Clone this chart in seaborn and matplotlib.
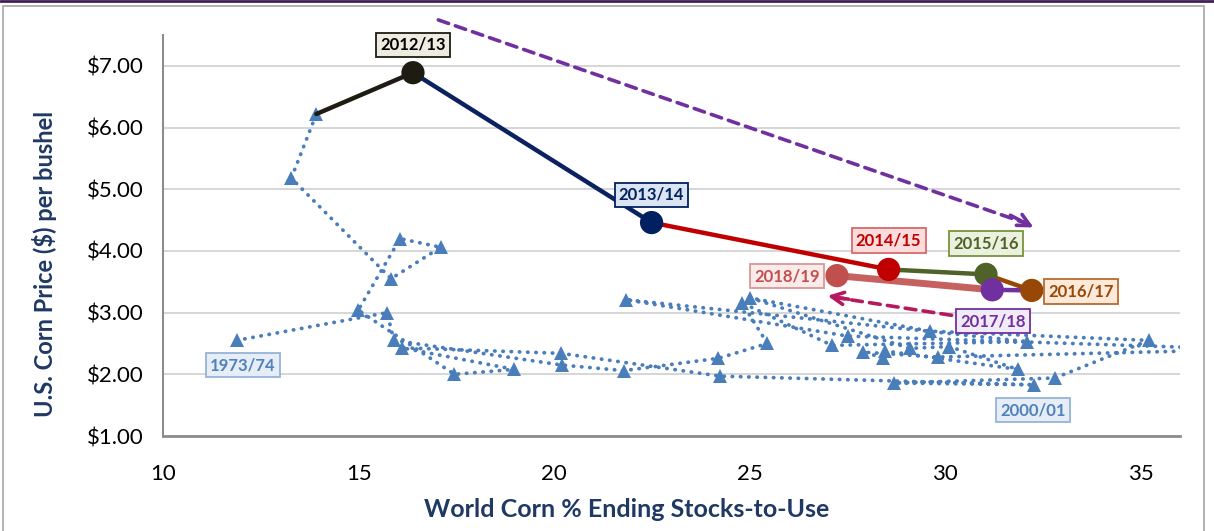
import matplotlib
matplotlib.use("Agg")
import matplotlib.pyplot as plt
import matplotlib.patches as patches
import matplotlib.lines as mlines
from matplotlib.ticker import StrMethodFormatter
import pandas as pd
import seaborn as sns

# dotted history line, 1973/74 - 2011/12 (three mid-80s years sit off the right edge)
hist_years = ["1973/74", "1974/75", "1975/76", "1976/77", "1977/78", "1978/79", "1979/80",
              "1980/81", "1981/82", "1982/83", "1983/84", "1984/85", "1985/86", "1986/87",
              "1987/88", "1988/89", "1989/90", "1990/91", "1991/92", "1992/93", "1993/94",
              "1994/95", "1995/96", "1996/97", "1997/98", "1998/99", "1999/00", "2000/01",
              "2001/02", "2002/03", "2003/04", "2004/05", "2005/06", "2006/07", "2007/08",
              "2008/09", "2009/10", "2010/11", "2011/12"]
hist_stocks = [11.88, 15.73, 15.90, 20.20, 21.78, 24.20, 25.45,
               24.80, 27.10, 32.10, 21.83, 27.50, 38.0, 41.0,
               39.0, 29.80, 27.90, 28.40, 28.45, 31.85, 30.10,
               29.10, 25.00, 29.60, 35.20, 32.80, 28.70, 32.26,
               24.25, 20.18, 16.10, 18.98, 17.45, 14.99, 16.06,
               17.10, 15.83, 13.28, 13.92]
hist_price = [2.55, 3.00, 2.55, 2.15, 2.06, 2.26, 2.50,
              3.16, 2.47, 2.53, 3.21, 2.62, 2.40, 2.30,
              2.42, 2.28, 2.36, 2.27, 2.38, 2.08, 2.45,
              2.42, 3.24, 2.70, 2.55, 1.94, 1.86, 1.83,
              1.97, 2.34, 2.43, 2.08, 2.00, 3.04, 4.20,
              4.06, 3.55, 5.18, 6.22]

# highlighted recent years
recent_years = ["2011/12", "2012/13", "2013/14", "2014/15", "2015/16", "2016/17", "2017/18", "2018/19"]
recent_stocks = [13.92, 16.39, 22.49, 28.55, 31.04, 32.21, 31.20, 27.23]
recent_price = [6.22, 6.89, 4.46, 3.70, 3.62, 3.36, 3.37, 3.60]

seg_colors = ["#1e1c12", "#0b2160", "#c00000", "#4f6228", "#984806", "#7030a0", "#c0504d"]
dot_colors = [None, "#1e1c12", "#002060", "#c00000", "#4f6228", "#984806", "#7030a0", "#c0504d"]

# label boxes: (text colour, face, edge, x, y)
label_style = {
    "2012/13": ("#000000", "#eeece1", "#1e1c12", 16.39, 7.34),
    "2013/14": ("#002060", "#dbe5f1", "#002060", 22.49, 4.91),
    "2014/15": ("#c00000", "#fadcdc", "#d9696a", 28.55, 4.17),
    "2015/16": ("#4f6228", "#ebf1de", "#77933c", 31.04, 4.12),
    "2016/17": ("#984806", "#fde9d9", "#b86a2c", 33.46, 3.34),
    "2017/18": ("#7030a0", "#f1ebf7", "#7030a0", 31.22, 2.86),
    "2018/19": ("#c0504d", "#fbeaea", "#d99694", 25.95, 3.59),
    "1973/74": ("#4f81bd", "#e6edf6", "#95b3d7", 12.04, 2.15),
    "2000/01": ("#4f81bd", "#e6edf6", "#95b3d7", 32.25, 1.42),
}

sns.set_theme(style="white")
plt.rcParams["font.family"] = ["Lato", "DejaVu Sans"]

hist = pd.DataFrame({"year": hist_years, "stocks": hist_stocks, "price": hist_price})
recent = pd.DataFrame({"year": recent_years, "stocks": recent_stocks, "price": recent_price})

fig = plt.figure(figsize=(12.14, 5.31), dpi=100)
ax = fig.add_axes([0.1343, 0.1789, 0.8377, 0.7551])

ax.grid(axis="y", color="#d0d0d0", lw=1.2)
ax.set_axisbelow(True)

sns.lineplot(data=hist, x="stocks", y="price", sort=False, estimator=None, ax=ax,
             color="#4a7ebb", lw=2.7, linestyle=(0, (0.1, 2.1)), dash_capstyle="round",
             marker="^", markersize=10, markeredgewidth=0, zorder=3)

for i in range(len(recent) - 1):
    lw = 5 if i == len(recent) - 2 else 3.2
    alpha = 0.9 if i == len(recent) - 2 else 1
    sns.lineplot(data=recent.iloc[i:i + 2], x="stocks", y="price", sort=False,
                 estimator=None, ax=ax, color=seg_colors[i], lw=lw, alpha=alpha, zorder=4)

for i in range(1, len(recent)):
    sns.scatterplot(x=[recent_stocks[i]], y=[recent_price[i]], ax=ax, color=dot_colors[i],
                    s=280, edgecolor="none", zorder=5)

for name, (tc, fc, ec, lx, ly) in label_style.items():
    ax.text(lx, ly, name, ha="center", va="center", fontsize=12, fontweight="bold", color=tc,
            zorder=6, bbox=dict(boxstyle="square,pad=0.25", fc=fc, ec=ec, lw=1.3))

# trend arrows
ax.annotate("", xy=(32.1, 4.44), xytext=(16.97, 7.76), annotation_clip=False,
            arrowprops=dict(arrowstyle="-", color="#7030a0", lw=2.6, linestyle=(0, (3, 2))))
ax.annotate("", xy=(32.32, 4.36), xytext=(31.6, 4.6), annotation_clip=False,
            arrowprops=dict(arrowstyle="->", color="#7030a0", lw=2.6, mutation_scale=22))
ax.annotate("", xy=(27.15, 3.25), xytext=(30.23, 2.95),
            arrowprops=dict(arrowstyle="-", color="#b5195f", lw=2.6, linestyle=(0, (3, 2))))
ax.annotate("", xy=(26.92, 3.28), xytext=(27.6, 3.21),
            arrowprops=dict(arrowstyle="->", color="#b5195f", lw=2.6, mutation_scale=22))

ax.set_xlim(10, 36)
ax.set_ylim(1, 7.5)
ax.set_xticks([10, 15, 20, 25, 30, 35])
ax.set_yticks([1, 2, 3, 4, 5, 6, 7])
ax.yaxis.set_major_formatter(StrMethodFormatter("${x:.2f}"))

for side in ["top", "right"]:
    ax.spines[side].set_visible(False)
for side in ["left", "bottom"]:
    ax.spines[side].set_color("#8c8c8c")
ax.spines["left"].set_linewidth(1.5)
ax.spines["bottom"].set_linewidth(2)
ax.tick_params(axis="both", labelsize=16, colors="#8c8c8c", labelcolor="black",
               direction="out", length=8, width=1.5, pad=6)
ax.tick_params(axis="x", pad=12)

ax.set_xlabel("World Corn % Ending Stocks-to-Use", fontsize=18, fontweight="bold",
              color="#1f3864")
ax.set_ylabel("U.S. Corn Price ($) per bushel", fontsize=17, fontweight="bold",
              color="#1f3864")
ax.xaxis.set_label_coords(0.456, -0.155)
ax.yaxis.set_label_coords(-0.104, 0.43)

# chart frame and the thin purple rule on top
fig.add_artist(patches.Rectangle((3 / 1214, -0.02), 1201 / 1214, 1.02 - 6 / 531,
                                 transform=fig.transFigure, fill=False,
                                 ec="#a6a6a6", lw=1.2))
fig.add_artist(mlines.Line2D([0, 1], [1 - 1 / 531, 1 - 1 / 531], transform=fig.transFigure,
                             color="#40205a", lw=2))

fig.savefig("out.png", dpi=100)
